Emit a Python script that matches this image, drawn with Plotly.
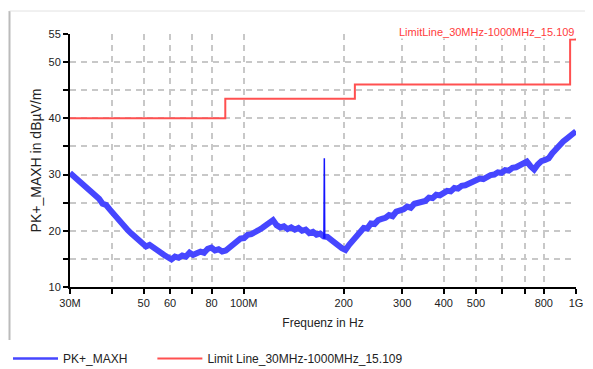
import plotly.graph_objects as go

# ---- data ----
freq_mhz = [30.0, 30.8, 31.6, 32.4, 33.2, 34.0, 34.9, 35.8, 36.7, 37.6, 38.5, 39.5, 40.5, 41.5,
            42.6, 43.7, 44.8, 45.9, 47.1, 48.3, 49.5, 50.8, 52.1, 53.4, 54.8, 56.2, 57.6, 59.1,
            60.6, 62.1, 63.7, 65.3, 67.0, 68.7, 70.4, 72.2, 74.1, 76.0, 77.9, 79.9, 81.9, 84.0,
            86.1, 88.3, 90.6, 92.9, 95.3, 97.7, 100.2, 102.8, 105.4, 108.1, 110.8, 113.6, 116.5,
            119.5, 122.5, 125.6, 128.8, 132.1, 135.5, 138.9, 142.5, 146.1, 149.8, 153.6, 157.5,
            161.5, 165.6, 169.8, 174.0, 178.5, 183.0, 187.7, 192.5, 197.4, 202.4, 207.6, 212.9,
            218.3, 223.9, 229.6, 235.4, 241.4, 247.6, 253.9, 260.3, 266.9, 273.7, 280.7, 287.8,
            295.2, 302.7, 310.4, 318.3, 326.4, 334.7, 343.2, 352.0, 360.9, 370.1, 379.6, 389.2,
            399.1, 409.3, 419.7, 430.4, 441.4, 452.6, 464.2, 476.0, 488.1, 500.5, 513.3, 526.3,
            539.7, 553.5, 567.6, 582.0, 596.8, 612.0, 627.6, 643.6, 660.0, 676.8, 694.0, 711.7,
            729.8, 748.4, 767.5, 787.0, 807.1, 827.6, 848.7, 870.3, 892.5, 915.2, 938.5, 962.4,
            986.9, 1000.0]
level_dbuv = [30.3, 29.7, 29.3, 28.6, 28.2, 27.6, 27.0, 26.4, 25.7, 24.8, 24.6, 23.8, 23.0, 22.4,
              21.5, 20.9, 20.1, 19.5, 18.9, 18.4, 17.8, 17.2, 17.5, 17.0, 16.4, 16.2, 15.7, 15.3,
              14.9, 15.4, 15.2, 15.6, 15.4, 16.1, 15.7, 16.0, 16.3, 16.1, 16.8, 17.0, 16.5, 16.7,
              16.3, 16.5, 17.1, 17.6, 18.0, 18.6, 18.7, 19.3, 19.4, 19.9, 20.1, 20.5, 20.9,
              21.4, 21.9, 21.0, 20.6, 20.8, 20.3, 20.6, 20.2, 20.5, 20.0, 20.2, 19.6,
              19.8, 19.3, 19.5, 19.0, 18.9, 18.3, 18.0, 17.4, 16.9, 16.6, 17.5, 18.3,
              19.3, 19.8, 20.5, 20.4, 21.3, 21.2, 21.9, 22.1, 22.3, 22.8, 22.6, 23.4,
              23.5, 23.8, 24.3, 24.1, 24.8, 24.9, 25.2, 25.3, 25.9, 25.8, 26.4, 26.3,
              26.7, 27.1, 27.0, 27.6, 27.5, 28.0, 28.1, 28.4, 28.8, 28.9, 29.3, 29.2,
              29.7, 29.9, 30.0, 30.4, 30.3, 30.8, 30.7, 31.2, 31.3, 31.6, 31.9, 32.3,
              31.5, 30.9, 31.8, 32.4, 32.6, 32.9, 33.8, 34.6, 35.2, 35.9, 36.4, 36.9,
              37.4, 37.7]

spike_mhz = [174.3, 174.8, 175.3]
spike_dbuv = [18.6, 32.9, 18.6]

limit_mhz = [30, 88, 216, 960, 1000]
limit_dbuv = [40, 43.5, 46, 54, 54]

x_tickvals_mhz = [30, 40, 50, 60, 70, 80, 100, 200, 300, 400, 500, 600, 700, 800, 1000]
x_ticktext = ["30M", "", "50", "60", "", "80", "100M", "200", "300", "400", "500", "", "", "800", "1G"]
y_tickvals = [10, 15, 20, 25, 30, 35, 40, 45, 50, 55]
y_ticktext = ["10", "", "20", "", "30", "", "40", "", "50", "55"]

trace_name = "PK+_MAXH"
limit_name = "Limit Line_30MHz-1000MHz_15.109"
limit_label = "LimitLine_30MHz-1000MHz_15.109"

BLUE = "rgb(70,70,255)"
RED = "rgb(255,80,80)"
FONT = "Liberation Sans, Arial, sans-serif"
OFF = 8  # page body margin
W, H = 593 - OFF, 369 - OFF
L, T = 70 - OFF, 34 - OFF
PR, PB = 576 - OFF, 287 - OFF
R, B = W - PR, H - PB

def px_x(p):
    return (p - OFF - L) / (PR - L)

def px_y(p):
    return (PB - (p - OFF)) / (PB - T)

fig = go.Figure()
fig.add_trace(go.Scatter(
    x=[f * 1e6 for f in freq_mhz], y=level_dbuv, mode="lines", name=trace_name,
    line=dict(color=BLUE, width=6), legendgroup="pk", showlegend=False))
fig.add_trace(go.Scatter(
    x=[f * 1e6 for f in spike_mhz], y=spike_dbuv, mode="lines", name=trace_name,
    line=dict(color="rgb(20,20,255)", width=1.5), showlegend=False, legendgroup="pk"))
# legend entries (thin sample lines as in the reference legend)
fig.add_trace(go.Scatter(
    x=[None], y=[None], mode="lines", name=trace_name + "\u00a0" * 6,
    line=dict(color=BLUE, width=2.5), legendgroup="pk"))
fig.add_trace(go.Scatter(
    x=[f * 1e6 for f in limit_mhz], y=limit_dbuv, mode="lines", name=limit_name,
    line=dict(color=RED, width=2, shape="hv")))

grid = dict(showgrid=True, gridcolor="#c8c8c8", gridwidth=1.5, griddash="6px,5px")
axis_line = dict(showline=True, linecolor="black", linewidth=2, ticks="outside",
                 ticklen=5, tickwidth=2, tickcolor="black", zeroline=False, mirror=False)

fig.update_layout(
    width=W, height=H,
    margin=dict(l=L, r=R, t=T, b=B, autoexpand=False),
    paper_bgcolor="white", plot_bgcolor="white",
    font=dict(family=FONT, size=11, color="#222"),
    showlegend=True,
    legend=dict(orientation="h", xref="container", yref="container",
                x=0, y=(H - 336) / H, xanchor="left", yanchor="top",
                font=dict(size=12, color="#222"), itemwidth=45,
                bgcolor="rgba(0,0,0,0)"),
    xaxis=dict(type="log", range=[7.4771, 9.0],
               tickvals=[v * 1e6 for v in x_tickvals_mhz], ticktext=x_ticktext,
               title=dict(text="Frequenz in Hz", font=dict(size=12), standoff=10),
               **grid, **axis_line),
    yaxis=dict(range=[10, 55], tickvals=y_tickvals, ticktext=y_ticktext,
               title=dict(text="PK+_MAXH in dBµV/m", font=dict(size=14), standoff=4),
               **grid, **axis_line),
    annotations=[dict(text=limit_label, xref="paper", yref="paper",
                      x=px_x(575), y=px_y(31.5), xanchor="right", yanchor="middle",
                      showarrow=False, font=dict(size=11, color="rgb(255,60,60)"),
                      bgcolor="white", borderpad=0)],
    shapes=[
        dict(type="line", xref="paper", yref="paper", x0=px_x(9.5), x1=px_x(9.5),
             y0=px_y(11), y1=px_y(340), line=dict(color="#bbbbbb", width=2), layer="above"),
        dict(type="line", xref="paper", yref="paper", x0=px_x(9.5), x1=px_x(593),
             y0=px_y(11), y1=px_y(11), line=dict(color="#e2e2e2", width=1), layer="above"),
    ],
)

fig.write_html("out.html")
